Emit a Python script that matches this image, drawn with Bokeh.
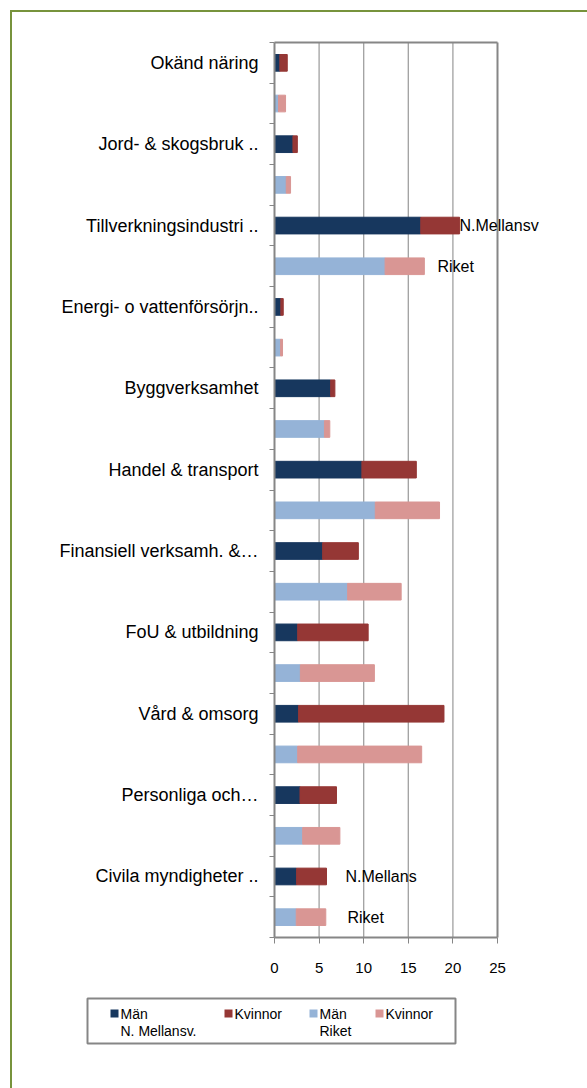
from bokeh.plotting import figure
from bokeh.models import Range1d, FixedTicker, Label, ColumnDataSource
from bokeh.core.properties import value
from bokeh.embed import file_html
from bokeh.resources import INLINE

# ---- data ----
categories = ["Okänd näring", "Jord- & skogsbruk ..", "Tillverkningsindustri ..",
              "Energi- o vattenförsörjn..", "Byggverksamhet", "Handel & transport",
              "Finansiell verksamh. &…", "FoU & utbildning", "Vård & omsorg",
              "Personliga och…", "Civila myndigheter .."]
nm_man = [0.6, 2.07, 16.4, 0.71, 6.3, 9.8, 5.4, 2.6, 2.7, 2.86, 2.48]
nm_kvinnor = [0.83, 0.49, 4.35, 0.27, 0.47, 6.1, 4.0, 7.9, 16.3, 4.09, 3.35]
riket_man = [0.45, 1.32, 12.4, 0.68, 5.6, 11.3, 8.2, 2.9, 2.6, 3.16, 2.44]
riket_kvinnor = [0.79, 0.48, 4.4, 0.22, 0.6, 7.2, 6.0, 8.3, 13.9, 4.17, 3.31]
x_ticks = [0, 5, 10, 15, 20, 25]
legend_line1 = ["Män", "Kvinnor", "Män", "Kvinnor"]
legend_line2 = ["N. Mellansv.", "", "Riket", ""]

C_NM_M, C_NM_K, C_R_M, C_R_K = "#17375E", "#953735", "#95B3D7", "#D99694"
legend_colors = [C_NM_M, C_NM_K, C_R_M, C_R_K]
GRID = "#A0A0A0"
AX = "#868686"
FONT = "Liberation Sans"

W, H = 587, 1088
FL, FT, FW, FH = 274, 42, 223, 895  # plot area (0..25 x 0..22) in page px
n_rows = 2 * len(categories)
XU = 25.0 / FW          # data units per px (x)
YU = n_rows / FH        # data units per px (y)

# frame covers the whole canvas; axes are pinned with fixed_location
p = figure(width=W, height=H,
           x_range=Range1d(-FL * XU, (W - FL) * XU),
           y_range=Range1d((H - FT) * YU, -FT * YU),
           min_border=0, output_backend="svg", toolbar_location=None)

def dx(px):
    return (px - FL) * XU

def dy(py):
    return (py - FT) * YU

nm_y = [2 * i + 0.5 for i in range(len(categories))]
r_y = [2 * i + 1.5 for i in range(len(categories))]
nm_tot = [a + b for a, b in zip(nm_man, nm_kvinnor)]
r_tot = [a + b for a, b in zip(riket_man, riket_kvinnor)]

# gridlines and plot-area border
p.segment(x0=x_ticks[1:-1], y0=0, x1=x_ticks[1:-1], y1=n_rows, line_color=GRID, line_width=1.3)
p.segment(x0=[x_ticks[0], x_ticks[-1]], y0=[0, 0], x1=[x_ticks[-1], x_ticks[-1]],
          y1=[0, n_rows], line_color=AX, line_width=2)

src = ColumnDataSource(dict(nm_y=nm_y, r_y=r_y, nm_man=nm_man, nm_tot=nm_tot,
                            r_man=riket_man, r_tot=r_tot, zero=[0] * len(categories)))
BH = 0.41
p.hbar(y="nm_y", left="zero", right="nm_man", height=BH, color=C_NM_M, source=src)
p.hbar(y="nm_y", left="nm_man", right="nm_tot", height=BH, color=C_NM_K, source=src)
p.hbar(y="r_y", left="zero", right="r_man", height=BH, color=C_R_M, source=src)
p.hbar(y="r_y", left="r_man", right="r_tot", height=BH, color=C_R_K, source=src)

# axes
xa = p.xaxis[0]
xa.fixed_location = n_rows
xa.ticker = FixedTicker(ticks=x_ticks)
xa.bounds = (x_ticks[0], x_ticks[-1])
xa.major_tick_out = 6
xa.major_tick_in = 0
xa.minor_tick_out = 0
xa.minor_tick_in = 0
xa.axis_line_color = AX
xa.axis_line_width = 2
xa.major_tick_line_color = AX
xa.major_label_text_font = FONT
xa.major_label_text_font_size = "15px"
xa.major_label_text_color = "black"
xa.major_label_standoff = 19

ya = p.yaxis[0]
ya.fixed_location = 0
ya.bounds = (0, n_rows)
ya.ticker = FixedTicker(ticks=nm_y, minor_ticks=list(range(n_rows + 1)))
ya.major_label_overrides = {y: c for y, c in zip(nm_y, categories)}
ya.major_tick_out = 0
ya.major_tick_in = 0
ya.minor_tick_out = 5
ya.minor_tick_in = 0
ya.minor_tick_line_color = AX
ya.axis_line_color = AX
ya.axis_line_width = 2
ya.major_label_text_font = FONT
ya.major_label_text_font_size = "18px"
ya.major_label_text_color = "black"
ya.major_label_standoff = 11

p.xgrid.grid_line_color = None
p.ygrid.grid_line_color = None
p.outline_line_color = None

# series annotations
for txt, x, y in [("N.Mellansv", dx(459), nm_y[2]), ("Riket", dx(437), r_y[2]),
                  ("N.Mellans", dx(345), nm_y[-1]), ("Riket", dx(347), r_y[-1])]:
    p.add_layout(Label(x=x, y=y, text=txt, text_font=FONT, text_font_size="16px",
                       text_baseline="middle", text_color="black"))

# legend (drawn below the plot area)
sw_px = [110, 224, 309, 375]
p.quad(left=dx(87), right=dx(455), top=dy(998), bottom=dy(1043),
       fill_color="white", line_color=AX, line_width=2)
p.quad(left=[dx(s) for s in sw_px], right=[dx(s + 8) for s in sw_px],
       top=dy(1009), bottom=dy(1017), fill_color=legend_colors, line_color=None)
p.text(x=[dx(s + 10) for s in sw_px], y=dy(1013.5), text=legend_line1,
       text_font=value(FONT), text_font_size="14px", text_baseline="middle", text_color="black")
p.text(x=[dx(s + 10) for s in sw_px], y=dy(1030.5), text=legend_line2,
       text_font=value(FONT), text_font_size="14px", text_baseline="middle", text_color="black")

# green frame via CSS inset shadows
p.styles = {"box-shadow": "inset 10px 10px 0 0 white, inset 12px 12px 0 0 #77933C"}
p.border_fill_alpha = 0
p.background_fill_alpha = 0

open("out.html", "w").write(file_html(p, INLINE))
